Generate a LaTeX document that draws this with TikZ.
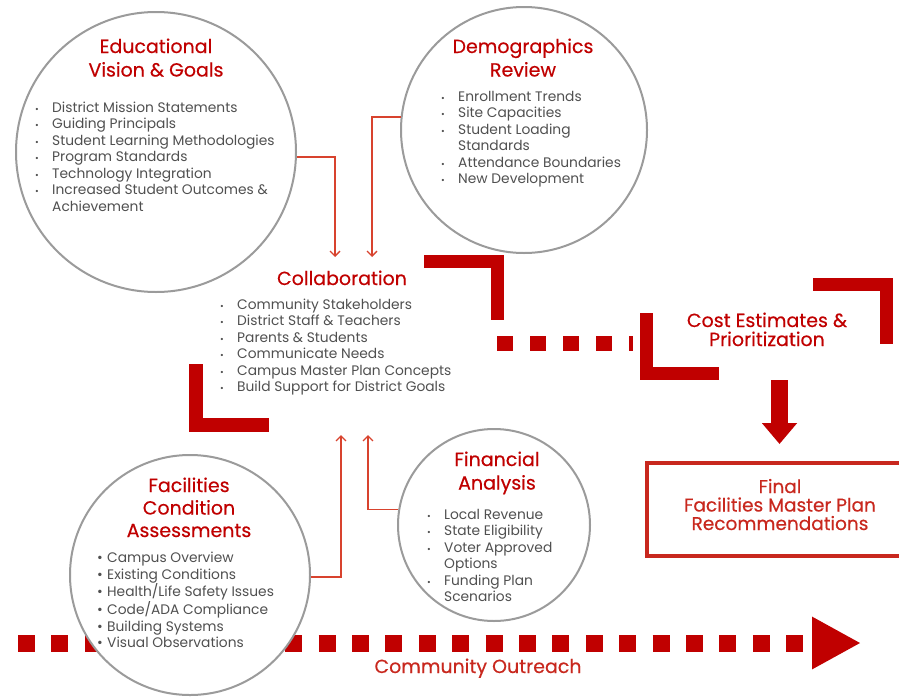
\documentclass[tikz,border=0pt]{standalone}
\usepackage{fontspec}
\setmainfont{Poppins}
\newfontfamily\headfont{Poppins}[FakeBold=0.4]
\usetikzlibrary{arrows.meta}
\definecolor{brandred}{HTML}{C00000}
\definecolor{boxred}{HTML}{C8281E}
\definecolor{linkred}{HTML}{D8432E}
\definecolor{ringgray}{HTML}{9B9B9B}
\definecolor{bodygray}{HTML}{505050}
\def\bul{\makebox[17pt][l]{\fontsize{9}{9}\selectfont\textbullet}}
\def\cont{\hspace*{17pt}}
\def\fbul{\makebox[10pt][l]{\textbullet}}
\tikzset{
  ring/.style={circle, draw=ringgray, line width=2pt, fill=white, inner sep=0pt},
  head/.style={text=brandred, align=center, inner sep=0pt, anchor=base,
    font=\headfont\fontsize{19}{23.5}\selectfont},
  items/.style={text=bodygray, align=left, inner sep=0pt, anchor=base west,
    font=\fontsize{13.8}{16.5}\selectfont},
  link/.style={draw=linkred, line width=1.3pt, -{Straight Barb[length=5pt,width=10pt]}},
  bracket/.style={draw=brandred, line width=13pt, line join=miter},
  dots/.style={draw=brandred, line width=15pt, dash pattern=on 16pt off 17pt}
}

\begin{document}
\begin{tikzpicture}[x=1pt, y=-1pt]
			%%%%% START %%%%%
			\useasboundingbox (0,0) rectangle (899,696);
			
			% community outreach line goes under the circles
			\coordinate (o1) at (18,643);
			\coordinate (o2) at (861,643);
			\draw[draw=brandred, line width=17pt, dash pattern=on 17pt off 16.4pt,
			  -{Triangle[length=49pt,width=49pt]}] (o1) -- (o2);
			\node[head, text=boxred] (outreach) at (478,673) {Community Outreach};
			
			% circles
			\node[ring, minimum size=280pt] (edu) at (156,152) {};
			\node[ring, minimum size=246pt] (demo) at (524,130) {};
			\node[ring, minimum size=240pt] (fac) at (190,575) {};
			\node[ring, minimum size=192pt] (fin) at (494,525) {};
			
			% (multi-line nodes sit on the baseline of their last line)
			\node[head] (eduhead) at (156,76.5) {Educational\\Vision \& Goals};
			\node[items] (edulist) at (35,211) {\bul District Mission Statements\\\bul Guiding Principals\\\bul Student Learning Methodologies\\\bul Program Standards\\\bul Technology Integration\\\bul Increased Student Outcomes \&\\\cont Achievement};
			
			\node[head] (demohead) at (523,76.5) {Demographics\\Review};
			\node[items] (demolist) at (441,183.5) {\bul Enrollment Trends\\\bul Site Capacities\\\bul Student Loading\\\cont Standards\\\bul Attendance Boundaries\\\bul New Development};
			
			\node[head] (collabhead) at (342,285) {Collaboration};
			\node[items] (collablist) at (220,391.5) {\bul Community Stakeholders\\\bul District Staff \& Teachers\\\bul Parents \& Students\\\bul Communicate Needs\\\bul Campus Master Plan Concepts\\\bul Build Support for District Goals};
			
			\node[head, font=\headfont\fontsize{19}{22.5}\selectfont] (fachead) at (189,537) {Facilities\\Condition\\Assessments};
			\node[items] (faclist) at (97,647.5) {\fbul Campus Overview\\\fbul Existing Conditions\\\fbul Health/Life Safety Issues\\\fbul Code/ADA Compliance\\\fbul Building Systems\\\fbul Visual Observations};
			
			\node[head] (finhead) at (497,489.5) {Financial\\Analysis};
			\node[items] (finlist) at (427,601.5) {\bul Local Revenue\\\bul State Eligibility\\\bul Voter Approved\\\cont Options\\\bul Funding Plan\\\cont Scenarios};
			
			% thin arrows into collaboration
			\coordinate (a1) at (335,257);
			\coordinate (a2) at (372,257);
			\coordinate (a3) at (341,435);
			\coordinate (a4) at (368,435);
			\draw[link] (edu.-2.5) -| (a1);
			\draw[link] (demo.174.4) -| (a2);
			\draw[link] (fac.-1.4) -| (a3);
			\draw[link] (fin.171) -| (a4);
			
			% red corner brackets
			\draw[bracket] (424,261) -- (497,261) -- (497,320);
			\draw[bracket, line width=14pt] (196,364) -- (196,425) -- (269,425);
			\draw[bracket] (646.5,313) -- (646.5,373) -- (719,373);
			\draw[bracket] (813,284.5) -- (886,284.5) -- (886,344);
			\draw[dots] (497,343.5) -- (633,343.5);
			
			\node[head, font=\headfont\fontsize{19}{19}\selectfont] (cost) at (767,346) {Cost Estimates \&\\Prioritization};
			
			\coordinate (d1) at (779.5,380);
			\coordinate (d2) at (779.5,444);
			\draw[draw=brandred, line width=17pt, -{Triangle[length=21pt,width=34pt]}] (d1) -- (d2);
			
			\node[draw=boxred, line width=4pt, minimum width=268pt, minimum height=93pt] (final) at (781,509.5) {};
			\node[head, text=boxred, font=\headfont\fontsize{18.5}{18.5}\selectfont] (finaltext) at (780,530) {Final\\Facilities Master Plan\\Recommendations};
			
			%%%%% END %%%%%
\end{tikzpicture}
\end{document}
